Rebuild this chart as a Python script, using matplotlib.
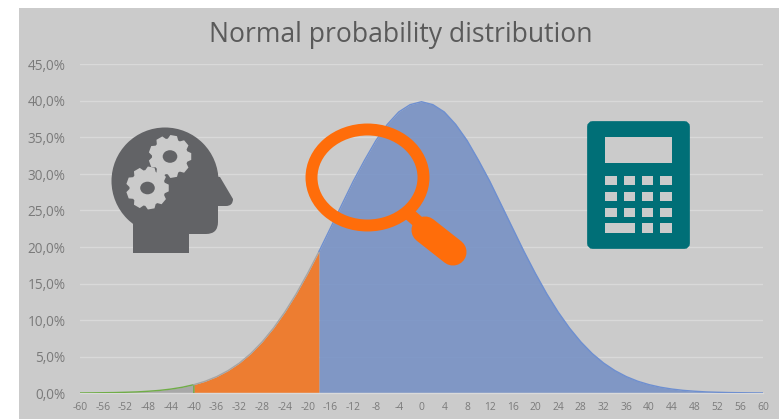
import numpy as np
import matplotlib
matplotlib.use("Agg")
import matplotlib.pyplot as plt
from matplotlib.patches import Rectangle, FancyBboxPatch, Ellipse, Circle, PathPatch, Polygon
from matplotlib.path import Path

W, H = 779, 419
TITLE = "Normal probability distribution"
x_vals = list(range(-60, 62, 2))
right_side = [39.9, 39.5, 38.5, 36.8, 34.6, 31.9, 29.0, 25.8, 22.6, 19.4, 16.4,
              13.6, 11.1, 8.9, 7.0, 5.4, 4.1, 3.06, 2.24, 1.61, 1.14, 0.79,
              0.54, 0.36, 0.24, 0.15, 0.10, 0.06, 0.04, 0.02, 0.01]
density = right_side[:0:-1] + right_side
y_ticks = [0, 5, 10, 15, 20, 25, 30, 35, 40, 45]
y_labels = ["0,0%", "5,0%", "10,0%", "15,0%", "20,0%", "25,0%", "30,0%", "35,0%", "40,0%", "45,0%"]
x_ticks = list(range(-60, 64, 4))
cut_low, cut_high = -40, -18

plt.rcParams["font.family"] = ["Open Sans", "DejaVu Sans"]
fig = plt.figure(figsize=(W / 100, H / 100), dpi=100, facecolor="white")
BG = "#CBCBCB"
fig.add_artist(Rectangle((19 / W, 0), 1 - 19 / W, 1 - 8 / H, transform=fig.transFigure, color=BG, lw=0, zorder=-1))

ax = fig.add_axes([80 / W, 1 - 393 / H, (763 - 80) / W, (393 - 64.5) / H])
ax.patch.set_alpha(0)
x = np.array(x_vals, float)
y = np.array(density, float)
ax.set_xlim(-60, 60)
ax.set_ylim(0, 45)
for s in ax.spines.values():
    s.set_visible(False)
ax.spines["bottom"].set_visible(True)
ax.spines["bottom"].set_color("#DADADA")
ax.spines["bottom"].set_linewidth(1)
ax.set_yticks(y_ticks, y_labels)
ax.set_xticks(x_ticks, [str(t) for t in x_ticks])
ax.tick_params(axis="both", length=0, colors="#7A7A7A")
ax.tick_params(axis="y", labelsize=9.8, pad=10.5)
ax.tick_params(axis="x", labelsize=7.4, pad=6.3)
ax.grid(axis="y", color="#D9D9D9", lw=1)
ax.set_axisbelow(True)

lo = x <= cut_low
mid = (x >= cut_low) & (x <= cut_high)
hi = x >= cut_high
ax.fill_between(x[lo], y[lo], color="#A8A8A8", lw=0, zorder=2)
ax.plot(np.r_[x[lo], cut_low], np.r_[y[lo], 0], color="#70AD47", lw=1, zorder=3)
ax.fill_between(x[mid], y[mid], color="#ED7D31", lw=0, zorder=2)
ax.plot(x[mid], y[mid], color="#A5A5A5", lw=1, zorder=3)
ax.fill_between(x[hi], y[hi], color="#7892C5", alpha=0.9, lw=0, zorder=2)
ax.plot(x[hi], y[hi], color="#6E8FD0", lw=1, zorder=3)

fig.text(401 / W, 1 - 35 / H, TITLE, ha="center", va="center", fontsize=19.1, color="#5A5A5A")

# Overlay in pixel coordinates for the decorative icons
ov = fig.add_axes([0, 0, 1, 1], facecolor="none")
ov.set_xlim(0, W)
ov.set_ylim(H, 0)
ov.axis("off")

# Head icon
HEAD = "#626366"
ov.add_patch(Circle((165, 181), 53.5, color=HEAD, lw=0))
v = [(133, 200), (133, 253), (189, 253), (189, 234), (206, 234), (218, 234), (218, 222),
     (218, 206), (226, 206), (233, 206), (233, 199), (220, 177), (165, 170), (133, 200)]
c = [Path.MOVETO, Path.LINETO, Path.LINETO, Path.LINETO, Path.LINETO, Path.CURVE3, Path.CURVE3,
     Path.LINETO, Path.LINETO, Path.CURVE3, Path.CURVE3, Path.LINETO, Path.LINETO, Path.CLOSEPOLY]
ov.add_patch(PathPatch(Path(v, c), color=HEAD, lw=0))


def gear(cx, cy, r_out, r_in, r_hole, n=9):
    pts = []
    for i in range(n):
        a = 2 * np.pi * i / n
        w = np.pi / n
        for da, r in [(-w * 0.85, r_in), (-w * 0.45, r_out), (w * 0.45, r_out), (w * 0.85, r_in)]:
            pts.append((cx + r * np.cos(a + da), cy + r * np.sin(a + da)))
    ov.add_patch(Polygon(pts, closed=True, color=BG, lw=0, zorder=4))
    ov.add_patch(Ellipse((cx, cy), 2 * r_hole + 1, 2 * r_hole - 1, color=HEAD, lw=0, zorder=5))


gear(170, 156.5, 21.5, 18, 6.8)
gear(147.5, 188, 21.5, 18, 6.8)

# Magnifier icon
ORANGE = "#FF6D0A"
ov.add_patch(Ellipse((367.5, 177.5), 112, 96, fill=False, ec=ORANGE, lw=8.6, zorder=6))
ov.plot([408, 432], [213, 234], color=ORANGE, lw=9, solid_capstyle="butt", zorder=6)
ov.plot([425, 453], [230, 252], color=ORANGE, lw=19.5, solid_capstyle="round", zorder=6)

# Calculator icon
TEAL = "#006F77"
ov.add_patch(FancyBboxPatch((592, 126), 93, 118, boxstyle="round,pad=0,rounding_size=1", fc=TEAL, ec=TEAL, lw=7, zorder=4))
ov.add_patch(Rectangle((605, 137), 67, 26, color=BG, lw=0, zorder=5))
cols = [(605, 617), (624, 635), (642, 653), (660, 672)]
rows = [(176, 185), (192, 201), (208, 217)]
for y0, y1 in rows:
    for x0, x1 in cols:
        ov.add_patch(Rectangle((x0, y0), x1 - x0, y1 - y0, color=BG, lw=0, zorder=5))
for x0, x1 in [(605, 635), (642, 653), (660, 672)]:
    ov.add_patch(Rectangle((x0, 223), x1 - x0, 10, color=BG, lw=0, zorder=5))

fig.savefig("out.png", dpi=100)
